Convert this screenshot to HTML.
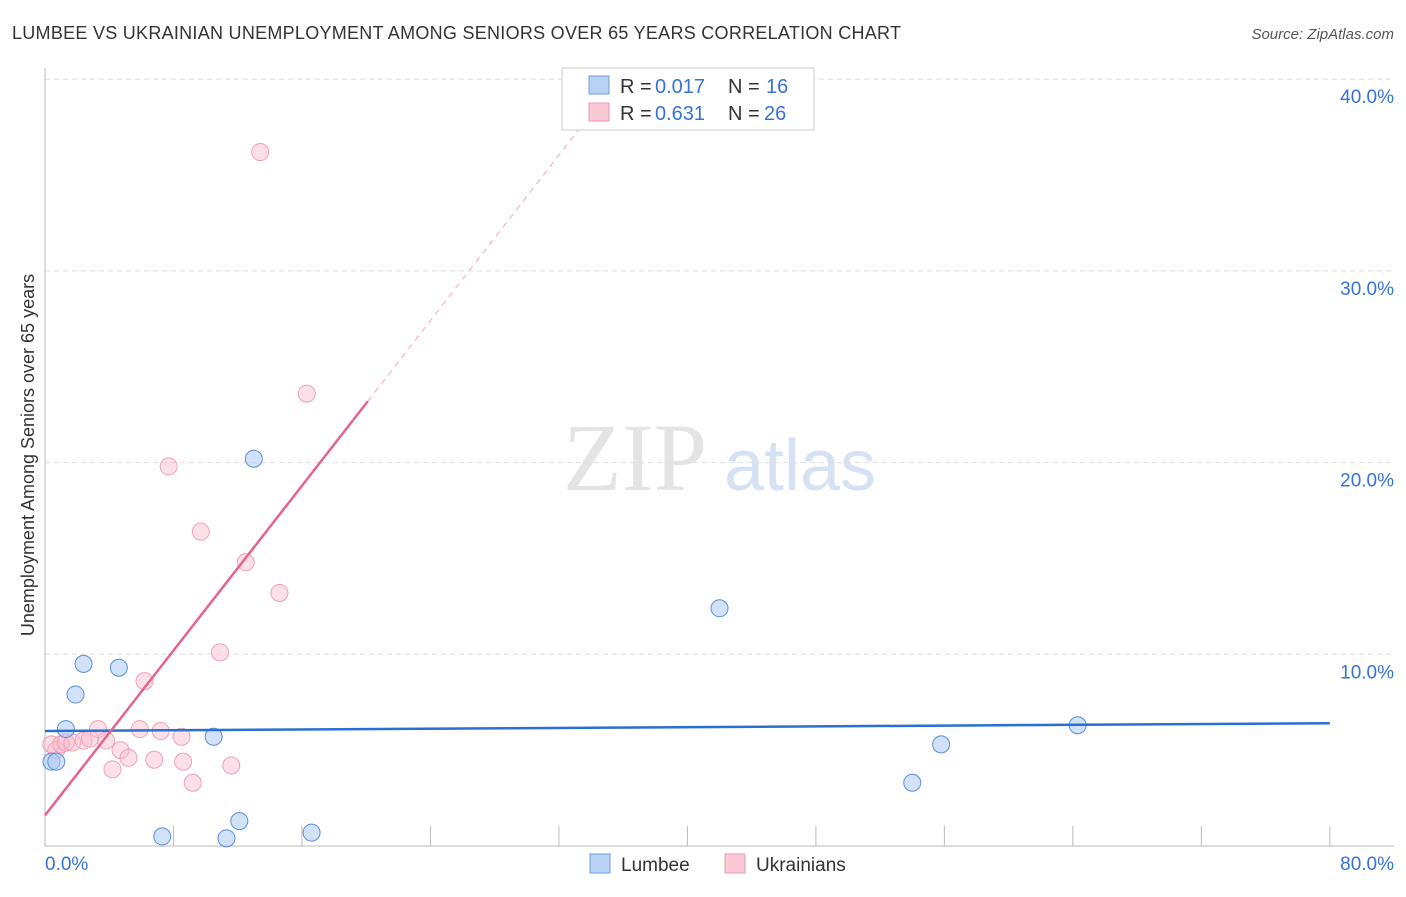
<!DOCTYPE html>
<html><head><meta charset="utf-8"><style>
body{margin:0;background:#fff;font-family:"Liberation Sans",sans-serif;}
</style></head><body>
<svg width="1406" height="892" xmlns="http://www.w3.org/2000/svg">
<text x="12" y="39" font-size="18" fill="#333" textLength="889">LUMBEE VS UKRAINIAN UNEMPLOYMENT AMONG SENIORS OVER 65 YEARS CORRELATION CHART</text>
<text x="1394" y="39" font-size="15" fill="#555" font-style="italic" text-anchor="end">Source: ZipAtlas.com</text>
<g><text x="635" y="490" font-size="96" fill="#e4e4e4" font-family="Liberation Serif,serif" text-anchor="middle">ZIP</text><text x="800" y="490" font-size="72" fill="#d6e2f3" text-anchor="middle">atlas</text></g>
<g id="grid"></g><g id="axes"></g><g id="marks"></g>
<text transform="translate(34,455) rotate(-90)" font-size="18" fill="#333" text-anchor="middle">Unemployment Among Seniors over 65 years</text>
<g>
<rect x="562" y="68" width="252" height="62" fill="#fff" stroke="#ccc"/>
<rect x="589" y="76" width="20" height="18" fill="#b7d2f5" stroke="#6c9de0"/>
<text x="620" y="93" font-size="20" fill="#333">R =</text>
<text x="655" y="93" font-size="20" fill="#3673d4">0.017</text>
<text x="728" y="93" font-size="20" fill="#333">N =</text>
<text x="766" y="93" font-size="20" fill="#3673d4">16</text>
<rect x="589" y="103" width="20" height="18" fill="#f9c9d6" stroke="#ee97af"/>
<text x="620" y="120" font-size="20" fill="#333">R =</text>
<text x="655" y="120" font-size="20" fill="#3673d4">0.631</text>
<text x="728" y="120" font-size="20" fill="#333">N =</text>
<text x="764" y="120" font-size="20" fill="#3673d4">26</text>
</g>
<g>
<rect x="590" y="854" width="20" height="19" fill="#b7d2f5" stroke="#6c9de0"/>
<text x="621" y="871" font-size="19" fill="#333">Lumbee</text>
<rect x="725" y="854" width="20" height="19" fill="#f9c9d6" stroke="#ee97af"/>
<text x="756" y="871" font-size="19" fill="#333">Ukrainians</text>
</g>
</svg>
<script>
const yTicks=[10,20,30,40];
const yTickLabels=["10.0%","20.0%","30.0%","40.0%"];
const xTicks=[0,8,16,24,32,40,48,56,64,72,80];
const lumbeeX=[0.4,0.7,1.3,1.9,2.4,4.6,7.3,10.5,11.3,12.1,13.0,16.6,42.0,54.0,55.8,64.3];
const lumbeeY=[4.4,4.4,6.1,7.9,9.5,9.3,0.5,5.7,0.4,1.3,20.2,0.7,12.4,3.3,5.3,6.3];
const ukrX=[0.4,0.7,1.0,1.3,1.7,2.4,2.8,3.3,3.8,4.2,4.7,5.2,5.9,6.2,6.8,7.2,7.7,8.5,8.6,9.2,9.7,10.9,11.6,12.5,13.4,14.6,16.3];
const ukrY=[5.3,5.0,5.3,5.4,5.4,5.5,5.6,6.1,5.5,4.0,5.0,4.6,6.1,8.6,4.5,6.0,19.8,5.7,4.4,3.3,16.4,10.1,4.2,14.8,36.2,13.2,23.6];
const lumbeeTrend=[[0,6.0],[80,6.4]];
const ukrTrend=[[0,1.6],[20.1,23.2]];
const ukrTrendExt=[[20.1,23.2],[34,38.2]];
const X=v=>45+v*16.06, Y=v=>846-v*19.17;
const NS="http://www.w3.org/2000/svg";
function mk(p,t,a){const e=document.createElementNS(NS,t);for(const k in a)e.setAttribute(k,a[k]);document.getElementById(p).appendChild(e);return e;}
yTicks.forEach((t,i)=>{
const l=mk('grid','line',{x1:45,x2:1394,y1:Y(t),y2:Y(t),stroke:'#ddd','stroke-dasharray':'5,4'});


const tx=mk('axes','text',{x:1394,y:Y(t)+24,'font-size':19,fill:'#3673d4','text-anchor':'end'});tx.textContent=yTickLabels[i];


});
const ax=mk('axes','path',{d:'M45,68V846H1394',stroke:'#bbb',fill:'none'});


xTicks.slice(1).forEach(t=>{const l=mk('axes','line',{x1:X(t),x2:X(t),y1:826,y2:846,stroke:'#bbb'});

});
[["0.0%",45,'start'],["80.0%",1394,'end']].forEach(a=>{const t=mk('axes','text',{x:a[1],y:870,'font-size':19,fill:'#3673d4','text-anchor':a[2]});t.textContent=a[0];

});
ukrX.forEach((v,i)=>{const c=mk('marks','circle',{cx:X(v),cy:Y(ukrY[i]),r:8.5,fill:'rgba(248,187,204,0.45)',stroke:'#f0a0b8','stroke-width':1});

});
lumbeeX.forEach((v,i)=>{const c=mk('marks','circle',{cx:X(v),cy:Y(lumbeeY[i]),r:8.5,fill:'rgba(170,200,242,0.55)',stroke:'#5b8fdc','stroke-width':1});

});
let l1=mk('marks','line',{x1:X(lumbeeTrend[0][0]),y1:Y(lumbeeTrend[0][1]),x2:X(lumbeeTrend[1][0]),y2:Y(lumbeeTrend[1][1]),stroke:'#2a6fd4','stroke-width':2.5});


let l2=mk('marks','line',{x1:X(ukrTrend[0][0]),y1:Y(ukrTrend[0][1]),x2:X(ukrTrend[1][0]),y2:Y(ukrTrend[1][1]),stroke:'#e8638c','stroke-width':2.5});


let l3=mk('marks','line',{x1:X(ukrTrendExt[0][0]),y1:Y(ukrTrendExt[0][1]),x2:X(ukrTrendExt[1][0]),y2:Y(ukrTrendExt[1][1]),stroke:'#f0a8bd','stroke-width':1,'stroke-dasharray':'6,5'});


</script>
</body></html>
